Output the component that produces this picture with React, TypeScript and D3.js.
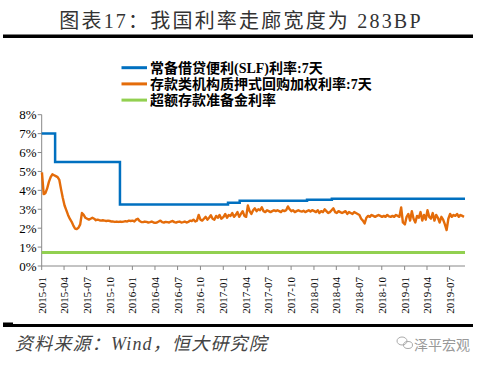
import React from 'react';
import * as d3 from 'd3';

// 常备借贷便利(SLF)利率:7天 — step changes
const slfDates = ['2015-01-01', '2015-02-24', '2015-11-12', '2017-01-20', '2017-03-08', '2017-12-04', '2018-03-14', '2019-09-01'];
const slfValues = [7.0, 5.5, 3.25, 3.35, 3.45, 3.5, 3.55, 3.55];

// 超额存款准备金利率
const excessDates = ['2015-01-01', '2019-09-01'];
const excessValues = [0.72, 0.72];

// 存款类机构质押式回购加权利率:7天 — weekly readings, each year starts Jan 2
const dr2015 = [4.95, 3.8, 3.85, 4.1, 4.45, 4.7, 4.85, 4.8, 4.75, 4.7, 4.55, 4.05, 3.6, 3.2, 2.95, 2.7, 2.5, 2.35, 2.15, 1.98, 1.95, 2.02, 2.2, 2.8, 2.7, 2.55, 2.5, 2.45, 2.5, 2.55, 2.5, 2.42, 2.45, 2.42, 2.4, 2.42, 2.4, 2.38, 2.4, 2.38, 2.35, 2.35, 2.33, 2.35, 2.33, 2.35, 2.33, 2.35, 2.37, 2.35, 2.4, 2.38];
const dr2016 = [2.4, 2.35, 2.45, 2.5, 2.38, 2.33, 2.32, 2.35, 2.33, 2.3, 2.32, 2.35, 2.3, 2.28, 2.3, 2.35, 2.4, 2.32, 2.3, 2.33, 2.32, 2.3, 2.35, 2.38, 2.32, 2.3, 2.33, 2.35, 2.3, 2.32, 2.35, 2.3, 2.33, 2.4, 2.38, 2.45, 2.35, 2.4, 2.7, 2.45, 2.4, 2.5, 2.6, 2.45, 2.55, 2.68, 2.5, 2.45, 2.65, 2.55, 2.7, 2.5];
const dr2017 = [2.6, 2.75, 2.55, 2.7, 2.65, 2.8, 2.6, 2.7, 2.85, 2.6, 2.75, 2.9, 2.65, 2.6, 3.2, 2.9, 2.75, 2.95, 3.05, 2.9, 3.0, 2.95, 3.1, 2.9, 2.85, 2.95, 2.9, 2.85, 2.9, 2.95, 2.9, 2.95, 2.9, 2.85, 2.95, 2.9, 2.95, 3.15, 3.0, 2.9, 2.95, 2.85, 2.9, 2.95, 2.9, 2.88, 2.92, 2.85, 2.9, 2.95, 2.88, 2.95];
const dr2018 = [2.9, 2.85, 2.95, 2.8, 2.9, 2.85, 3.0, 2.9, 2.8, 2.85, 2.95, 3.05, 2.85, 2.8, 2.9, 2.85, 2.8, 2.85, 2.9, 2.75, 2.85, 2.8, 2.75, 2.85, 2.8, 2.75, 2.7, 2.5, 2.4, 2.25, 2.55, 2.65, 2.6, 2.7, 2.65, 2.6, 2.65, 2.7, 2.65, 2.6, 2.65, 2.6, 2.7, 2.62, 2.6, 2.65, 2.6, 2.7, 2.65, 2.6, 3.1, 2.3];
const dr2019 = [2.2, 2.6, 2.75, 2.4, 2.9, 2.5, 2.3, 2.65, 2.55, 2.85, 2.4, 2.7, 2.45, 2.95, 2.6, 2.5, 2.8, 2.4, 2.7, 2.55, 2.3, 2.6, 2.45, 2.2, 1.9, 2.5, 2.75, 2.6, 2.7, 2.65, 2.75, 2.6, 2.7, 2.65, 2.6];
const drYears = [2015, 2016, 2017, 2018, 2019];
const drSeries = [dr2015, dr2016, dr2017, dr2018, dr2019];

const yTicks = [0, 1, 2, 3, 4, 5, 6, 7, 8];
const legendLabels = ['常备借贷便利(SLF)利率:7天', '存款类机构质押式回购加权利率:7天', '超额存款准备金利率'];
const colors = ['#0070C0', '#E46C0A', '#92D050'];

const serif = '"Liberation Serif", "Times New Roman", "Noto Sans CJK SC", serif';

type Pt = { date: Date; value: number };

export default function App() {
  const left = 41.7;
  const right = 465;
  const top = 114.7;
  const bottom = 266;

  const parse = d3.timeParse('%Y-%m-%d');
  const x = d3.scaleTime()
    .domain([new Date(2015, 0, 1), new Date(2019, 8, 1)])
    .range([left, right]);
  const y = d3.scaleLinear().domain([0, 8]).range([bottom, top]);

  const slf: Pt[] = slfDates.map((d, i) => ({ date: parse(d) as Date, value: slfValues[i] }));
  const excess: Pt[] = excessDates.map((d, i) => ({ date: parse(d) as Date, value: excessValues[i] }));
  const dr: Pt[] = [];
  drSeries.forEach((vals, yi) => {
    vals.forEach((v, wi) => {
      dr.push({ date: d3.timeDay.offset(new Date(drYears[yi], 0, 2), wi * 7), value: v });
    });
  });

  const line = d3.line<Pt>().x(d => x(d.date)).y(d => y(d.value));
  const stepLine = d3.line<Pt>().x(d => x(d.date)).y(d => y(d.value)).curve(d3.curveStepAfter);

  const xTicks = d3.timeMonth.every(3)!.range(new Date(2015, 0, 1), new Date(2019, 7, 1));
  const fmt = d3.timeFormat('%Y-%m');

  return (
    <svg width={483} height={368} style={{ position: 'absolute', left: 0, top: 0, background: '#fff' }}>
      <text x={241} y={28} textAnchor="middle" fontSize={20} letterSpacing={2.2} fill="#333" fontFamily={serif}>
        图表17：我国利率走廊宽度为 283BP
      </text>
      <rect x={3} y={34.5} width={470} height={3.5} fill="#000" />

      {legendLabels.map((label, i) => (
        <g key={label} transform={`translate(0, ${67.7 + i * 16.2})`}>
          <line x1={121.5} x2={147} y1={0} y2={0} stroke={colors[i]} strokeWidth={3} />
          <text x={150} y={5} fontSize={14} fontWeight="bold" fill="#000" fontFamily={serif}>{label}</text>
        </g>
      ))}

      {/* y axis */}
      <line x1={left} x2={left} y1={top} y2={bottom} stroke="#888" />
      {yTicks.map(t => (
        <g key={t}>
          <line x1={left - 4} x2={left} y1={y(t)} y2={y(t)} stroke="#888" />
          <text x={left - 5} y={y(t) + 4.5} textAnchor="end" fontSize={13} fill="#000" fontFamily={serif}>{t}%</text>
        </g>
      ))}

      {/* x axis */}
      <line x1={left} x2={right} y1={bottom} y2={bottom} stroke="#888" />
      {xTicks.map(t => (
        <g key={t.getTime()}>
          <line x1={x(t)} x2={x(t)} y1={bottom} y2={bottom + 4} stroke="#888" />
          <text
            transform={`translate(${x(t) + 4}, 277) rotate(-90)`}
            textAnchor="end"
            fontSize={11}
            fill="#000"
            fontFamily={serif}
          >{fmt(t)}</text>
        </g>
      ))}

      <path d={line(excess) || ''} fill="none" stroke={colors[2]} strokeWidth={3} />
      <path d={line(dr) || ''} fill="none" stroke={colors[1]} strokeWidth={2.4} strokeLinejoin="round" />
      <path d={stepLine(slf) || ''} fill="none" stroke={colors[0]} strokeWidth={2.5} />

      <rect x={3} y={322.5} width={10} height={2} fill="#000" />
      <rect x={3} y={324} width={470} height={3} fill="#000" />
      <text x={15} y={350} fontSize={18} letterSpacing={1.2} fontStyle="italic" fill="#444" fontFamily={serif}>
        资料来源：Wind，恒大研究院
      </text>

      <g transform="translate(398, 345)" fill="none" stroke="#aaa" strokeWidth={1}>
        <ellipse cx={4} cy={-4} rx={5} ry={4} />
        <ellipse cx={10} cy={0} rx={4.5} ry={3.5} />
      </g>
      <text x={414} y={350} fontSize={14} fill="#999" fontFamily='"Noto Sans CJK SC", sans-serif'>泽平宏观</text>
    </svg>
  );
}
